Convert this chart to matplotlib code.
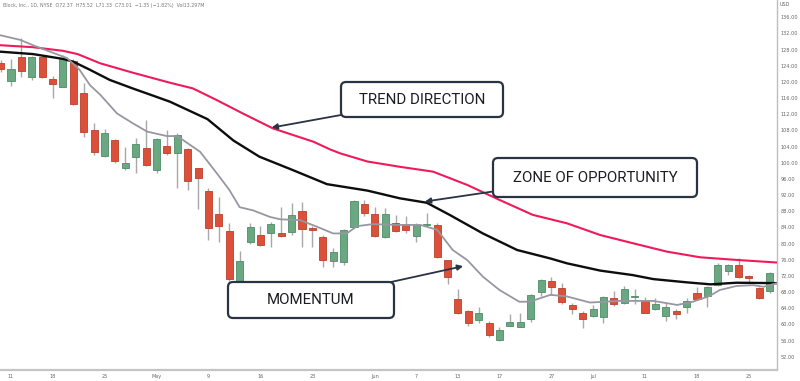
import matplotlib
matplotlib.use("Agg")
import matplotlib.pyplot as plt
from matplotlib.patches import FancyBboxPatch
from matplotlib.transforms import Affine2D

# ---------------- data ----------------
day_index = list(range(-1, 74))
opens = [124.6, 120.2, 126.1, 121.3, 126.1, 120.7, 118.8, 125.2, 117.2, 108.1,
         101.7, 105.6, 98.6, 101.5, 103.6, 98.2, 104.1, 102.3, 103.4, 98.6,
         93.1, 87.3, 83.0, 70.6, 80.3, 82.1, 82.5, 82.7, 82.9, 88.0,
         83.8, 81.5, 75.8, 75.5, 84.2, 89.9, 87.3, 81.5, 85.2, 84.8,
         81.9, 84.5, 84.6, 75.9, 66.2, 63.4, 61.1, 60.4, 56.1, 59.7,
         59.4, 61.2, 68.1, 70.7, 69.1, 64.8, 62.9, 62.0, 61.9, 66.4,
         65.2, 66.8, 65.8, 63.8, 62.1, 63.3, 64.2, 67.8, 66.9, 69.8,
         73.3, 74.7, 72.0, 69.1, 68.3]
highs = [125.5, 125.6, 130.8, 126.3, 126.5, 121.5, 126.7, 125.6, 119.7, 109.9,
         108.4, 105.8, 104.0, 106.1, 110.6, 106.0, 108.0, 107.3, 103.6, 98.8,
         93.8, 91.4, 85.0, 78.2, 85.2, 84.3, 85.4, 89.0, 90.0, 90.4,
         84.3, 82.0, 78.8, 83.5, 90.9, 90.8, 89.0, 88.7, 87.0, 86.8,
         85.0, 87.5, 85.0, 76.0, 68.7, 63.6, 64.2, 60.9, 59.4, 62.6,
         62.9, 67.4, 71.2, 71.8, 70.3, 65.3, 63.2, 64.8, 66.9, 68.3,
         69.5, 68.7, 66.8, 66.4, 65.4, 63.9, 66.5, 69.3, 69.5, 75.3,
         75.0, 76.3, 72.3, 69.3, 73.0]
lows = [122.5, 119.0, 121.3, 120.5, 121.0, 116.0, 118.8, 114.3, 106.4, 101.9,
        101.5, 99.9, 98.2, 97.4, 99.2, 97.4, 102.0, 93.7, 93.3, 88.5,
        81.0, 80.5, 70.8, 70.4, 80.0, 79.4, 79.1, 81.7, 82.1, 79.1,
        79.2, 74.3, 74.3, 74.7, 84.0, 86.8, 81.5, 81.3, 82.8, 82.7,
        80.3, 84.3, 76.4, 70.0, 62.5, 59.6, 60.4, 56.8, 56.0, 59.5,
        59.3, 60.7, 66.9, 67.3, 65.0, 62.5, 59.2, 61.8, 60.4, 64.5,
        65.0, 65.0, 62.7, 63.5, 60.9, 61.2, 62.7, 66.0, 64.4, 69.6,
        72.3, 71.5, 70.2, 66.2, 67.8]
closes = [123.2, 123.1, 122.8, 126.1, 121.3, 119.4, 125.6, 114.5, 107.7, 102.6,
          107.3, 100.4, 99.9, 104.6, 99.4, 105.8, 102.3, 106.9, 95.5, 96.2,
          83.8, 84.3, 71.2, 75.8, 84.0, 79.6, 84.8, 81.9, 87.1, 83.5,
          83.3, 75.9, 78.0, 83.3, 90.5, 87.5, 81.9, 87.3, 83.2, 83.3,
          84.6, 84.9, 76.6, 71.8, 62.7, 60.3, 62.9, 57.4, 58.6, 60.7,
          60.7, 67.2, 71.0, 69.3, 65.5, 63.8, 61.3, 63.7, 66.7, 65.0,
          68.7, 67.0, 62.9, 65.0, 64.2, 62.5, 65.8, 66.2, 69.2, 74.8,
          74.7, 71.8, 71.4, 66.4, 72.7]

# moving averages (x = trading-day index)
slow_x = [-1.1, 2.1, 5.0, 6.4, 8.6, 11.7, 15.3, 17.5, 19.8, 22.3, 25.2, 29.1,
          30.7, 31.7, 34.3, 37.4, 40.6, 43.9, 47.0, 50.2, 53.5, 56.7, 59.8,
          63.1, 66.3, 69.5, 73.7]
slow_y = [129.1, 128.6, 127.7, 126.9, 124.6, 122.3, 119.8, 118.4, 115.5, 112.2,
          108.5, 105.2, 103.3, 102.3, 100.3, 99.0, 97.8, 94.5, 90.8, 87.1, 85.0,
          82.1, 80.1, 78.0, 76.6, 76.0, 75.3]
mid_x = [-1.1, 2.1, 5.0, 6.0, 7.6, 9.5, 11.7, 14.0, 15.3, 18.9, 21.4, 23.9,
         27.1, 30.4, 34.3, 37.4, 40.0, 42.2, 45.4, 48.7, 51.9, 53.5, 56.7,
         59.8, 61.8, 65.0, 67.3, 69.8, 73.7]
mid_y = [127.5, 126.9, 125.7, 125.0, 123.0, 120.5, 118.4, 116.3, 115.1, 110.8,
         105.5, 101.5, 98.2, 94.7, 93.1, 91.2, 90.1, 87.1, 82.5, 78.4, 76.3,
         75.1, 73.3, 72.2, 71.2, 70.4, 69.9, 70.3, 70.2]
fast_x = [-1.1, 0.9, 2.1, 5.4, 6.6, 7.6, 8.6, 10.2, 11.7, 13.1, 15.0, 16.0,
          18.2, 19.8, 21.0, 22.0, 23.3, 24.9, 25.9, 27.8, 29.4, 31.0, 32.3,
          33.3, 34.8, 37.4, 39.4, 41.0, 42.5, 43.9, 45.4, 47.0, 48.9, 49.9,
          51.9, 53.5, 55.7, 58.6, 61.8, 64.1, 65.6, 67.2, 68.2, 69.8, 71.4,
          72.4, 73.7]
fast_y = [131.6, 130.4, 129.1, 125.9, 123.0, 119.2, 116.8, 112.2, 109.8, 107.7,
          106.6, 106.6, 102.7, 97.4, 93.3, 89.0, 88.2, 86.6, 86.0, 85.8, 84.2,
          82.5, 82.5, 84.3, 84.8, 84.6, 84.6, 83.4, 78.4, 75.9, 71.8, 68.5,
          65.6, 65.6, 67.3, 66.9, 65.4, 65.8, 65.8, 64.8, 65.6, 67.0, 68.5,
          69.5, 69.7, 69.3, 70.2]

price_ticks = [52, 56, 60, 64, 68, 72, 76, 80, 84, 88, 92, 96, 100, 104, 108,
               112, 116, 120, 124, 128, 132, 136]
date_ticks = [0, 4, 9, 14, 19, 24, 29, 35, 39, 43, 47, 52, 56, 61, 66, 71]
date_labels = ["11", "18", "25", "May", "9", "16", "23", "Jun", "7", "13",
               "17", "27", "Jul", "11", "18", "25"]
header = ("Block, Inc., 1D, NYSE  O72.37  H75.52  L71.33  C73.01  "
          "\u22121.35 (\u22121.82%)  Vol13.297M")

# annotations: (text, box in pixels [left, top, right, bottom], arrow start px, tip in data)
notes = [
    ("TREND DIRECTION", (341, 82, 503, 117), (341, 115), (25.08, 108.7)),
    ("ZONE OF OPPORTUNITY", (493, 158, 697, 197), (493, 191.5), (39.83, 90.4)),
    ("MOMENTUM", (228, 282, 394, 318), (391, 282), (43.5, 74.4)),
]

# ---------------- figure ----------------
W, H = 800, 381
fig = plt.figure(figsize=(W / 100, H / 100), dpi=100)
ax = fig.add_axes([0, 11 / H, 777 / W, 370 / H])
ax.set_xlim(-1.058, 73.70)
ax.set_ylim(48.70, 140.28)

green_f, green_e = "#6aa882", "#4f8c68"
red_f, red_e = "#dc5039", "#b8412d"
wick_c = "#a8a8a8"

for i, o, h, l, c in zip(day_index, opens, highs, lows, closes):
    up = c >= o
    ax.vlines(i, l, h, color=wick_c, lw=1.0, zorder=1)
    bottom = min(o, c)
    height = max(abs(c - o), 0.25)
    ax.bar(i, height, bottom=bottom, width=0.68,
           color=green_f if up else red_f,
           edgecolor=green_e if up else red_e, linewidth=0.6, zorder=2)

ax.plot(slow_x, slow_y, color="#f01a5a", lw=1.5, zorder=3, solid_capstyle="round")
ax.plot(mid_x, mid_y, color="#0d0d0d", lw=1.7, zorder=3, solid_capstyle="round")
ax.plot(fast_x, fast_y, color="#9797a2", lw=1.3, zorder=3, solid_capstyle="round")

# axes styling
for s in ["top", "left"]:
    ax.spines[s].set_visible(False)
ax.spines["right"].set_color("#bdbdbd")
ax.spines["right"].set_linewidth(1.0)
ax.spines["bottom"].set_color("#c4c4c4")
ax.spines["bottom"].set_linewidth(1.6)
ax.yaxis.tick_right()
ax.set_yticks(price_ticks)
ax.set_yticklabels([f"{v:.2f}" for v in price_ticks])
ax.set_xticks(date_ticks)
ax.set_xticklabels(date_labels)
ax.tick_params(axis="y", length=0, pad=2.5, labelsize=3.6, labelcolor="#666666")
ax.tick_params(axis="x", length=0, pad=2.6, labelsize=3.5, labelcolor="#666666")
for lab in ax.get_yticklabels():
    lab.set_horizontalalignment("left")

px = Affine2D().scale(1, -1).translate(0, H)
fig.text(780 / W, 1 - 5 / H, "USD", fontsize=3.5, color="#666666", va="center", ha="left")
fig.text(3 / W, 1 - 5.5 / H, header, fontsize=3.4, color="#777777", va="center", ha="left")

ink = "#2a3344"
for text, (x0, y0, x1, y1), (sx, sy), tip in notes:
    box = FancyBboxPatch((x0, H - y1), x1 - x0, y1 - y0,
                         boxstyle="round,pad=0,rounding_size=5",
                         transform=None, facecolor="white", edgecolor=ink,
                         linewidth=1.6, zorder=6)
    fig.patches.append(box)
    fig.text((x0 + x1) / 2 / W, 1 - (y0 + y1) / 2 / H, text, family="Roboto",
             fontsize=10.8, color="#1c1c24", ha="center", va="center", zorder=7)
    ax.annotate("", xy=tip, xycoords="data", xytext=(sx, sy), textcoords=px,
                arrowprops=dict(arrowstyle="-|>", color=ink, lw=1.3,
                                mutation_scale=8, shrinkA=0, shrinkB=0),
                zorder=5, annotation_clip=False)

fig.savefig("out.png", dpi=100)
